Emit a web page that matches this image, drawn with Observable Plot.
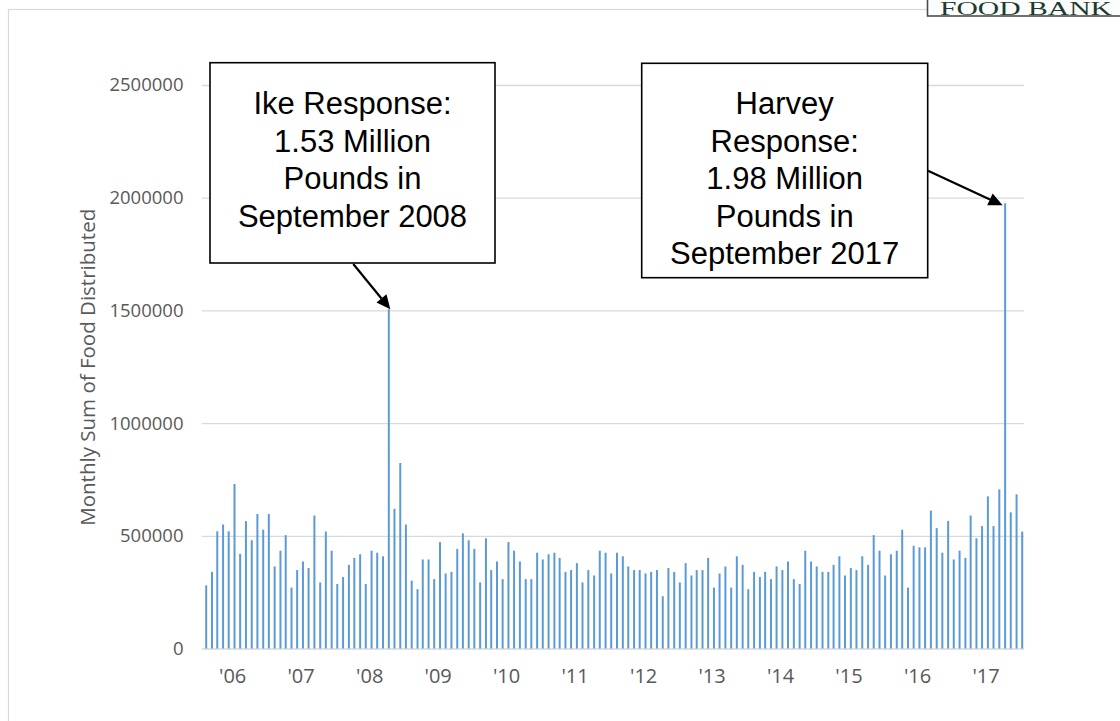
<!DOCTYPE html>
<html><head><meta charset="utf-8">
<script src="https://cdn.jsdelivr.net/npm/d3@7"></script>
<script src="https://cdn.jsdelivr.net/npm/@observablehq/plot@0.6"></script>
<style>html,body{margin:0;padding:0;background:#fff;} #chart{width:1120px;height:721px;overflow:hidden;}</style>
</head><body><div id="chart"></div>
<script>
// ---- data ----
const startMonth = "2006-01-01";
const pounds = [
  280000, 340000, 520000, 550000, 520000, 730000, 420000, 565000, 480000, 597000, 527000, 597000,
  364000, 434000, 503000, 270000, 348000, 386000, 357000, 590000, 293000, 519000, 434000, 286000,
  317000, 371000, 402000, 418000, 286000, 434000, 425000, 409000, 1505000, 620000, 823000, 550000,
  301000, 263000, 395000, 395000, 308000, 472000, 333000, 340000, 442000, 511000, 480000, 442000,
  293000, 489000, 348000, 386000, 308000, 472000, 434000, 386000, 308000, 308000, 425000, 395000,
  418000, 425000, 402000, 340000, 348000, 379000, 293000, 348000, 324000, 434000, 425000, 333000,
  425000, 409000, 364000, 348000, 348000, 333000, 340000, 348000, 232000, 357000, 340000, 293000,
  379000, 324000, 348000, 348000, 402000, 270000, 333000, 364000, 270000, 409000, 371000, 263000,
  340000, 317000, 340000, 308000, 364000, 348000, 386000, 308000, 286000, 434000, 386000, 364000,
  340000, 340000, 371000, 409000, 324000, 357000, 348000, 409000, 371000, 503000, 434000, 324000,
  418000, 434000, 527000, 270000, 456000, 449000, 449000, 612000, 534000, 425000, 566000, 395000,
  434000, 402000, 590000, 489000, 543000, 675000, 543000, 706000, 1975000, 604000, 684000, 519000
];
const labelYears = [2006, 2007, 2008, 2009, 2010, 2011, 2012, 2013, 2014, 2015, 2016, 2017];
const yearLabels = ["'06", "'07", "'08", "'09", "'10", "'11", "'12", "'13", "'14", "'15", "'16", "'17"];
const yTicks = [0, 500000, 1000000, 1500000, 2000000, 2500000];
const yTitle = "Monthly Sum of Food Distributed";
const ikeNote = ["Ike Response:", "1.53 Million", "Pounds in", "September 2008"];
const harveyNote = ["Harvey", "Response:", "1.98 Million", "Pounds in", "September 2017"];
const ikeMonth = "2008-09-01";
const harveyMonth = "2017-09-01";
const logoText = "FOOD BANK";

// ---- build ----
const start = new Date(startMonth);
const months = pounds.map((_, i) => d3.utcMonth.offset(start, i));
const data = months.map((date, i) => ({date, value: pounds[i]}));
const labelData = labelYears.map((y, i) => ({date: new Date(Date.UTC(y, 4, 22)), label: yearLabels[i]}));

const plot = Plot.plot({
  width: 1120, height: 721,
  marginLeft: 202, marginRight: 96, marginTop: 85, marginBottom: 72.5,
  style: {background: "#fff", fontFamily: "'Open Sans', sans-serif", overflow: "visible"},
  x: {type: "utc", domain: [months[0], months[months.length - 1]], range: [205.7, 1021.7], axis: null},
  y: {domain: [0, 2500000], axis: null},
  marks: [
    Plot.gridY(yTicks, {stroke: "#D9D9D9", strokeOpacity: 1, strokeWidth: 1.3}),
    Plot.axisY(yTicks, {tickSize: 0, tickPadding: 19, tickFormat: d3.format("d"), fontSize: 18.5, color: "#595959", label: null}),
    Plot.ruleX(data, {x: "date", y: "value", stroke: "#5B9BD5", strokeWidth: 2}),
    Plot.text(labelData, {x: "date", text: "label", frameAnchor: "bottom", dy: 28, fontSize: 20, fill: "#595959", lineAnchor: "middle"}),
    Plot.text([yTitle], {text: d => d, frameAnchor: "left", dx: -114, rotate: -90, fontSize: 20.5, fill: "#595959", textAnchor: "middle", lineAnchor: "middle"})
  ]
});
document.getElementById("chart").appendChild(plot);

const svg = d3.select(plot);
const xs = plot.scale("x"), ys = plot.scale("y");

// outer frame
svg.append("rect").attr("x", 8.5).attr("y", 9.5).attr("width", 1300).attr("height", 900)
  .attr("fill", "none").attr("stroke", "#D9D9D9").attr("stroke-width", 1.2);

// logo (cut off at the top-right)
svg.append("rect").attr("x", 927.5).attr("y", -30).attr("width", 300).attr("height", 46)
  .attr("fill", "#fbfdfc").attr("stroke", "#4d4d4d").attr("stroke-width", 1.6);
svg.append("text").attr("x", 940).attr("y", 14.5).text(logoText)
  .attr("text-anchor", "start")
  .attr("font-family", "'Liberation Serif', serif").attr("font-size", 18)
  .attr("textLength", 172).attr("lengthAdjust", "spacingAndGlyphs")
  .attr("fill", "#1d3b2c");

function note(lines, bx, by, bw, bh) {
  svg.append("rect").attr("x", bx).attr("y", by).attr("width", bw).attr("height", bh)
    .attr("fill", "#fff").attr("stroke", "#000").attr("stroke-width", 1.6);
  const t = svg.append("text").attr("font-family", "'Liberation Sans', Arial, sans-serif")
    .attr("font-size", 31).attr("fill", "#000").attr("text-anchor", "middle");
  lines.forEach((l, i) => t.append("tspan").attr("x", bx + bw / 2).attr("y", 114.3 + 37.5 * i).text(l));
}
function arrow(x1, y1, x2, y2) {
  const a = Math.atan2(y2 - y1, x2 - x1), L = 14, w = 6.5;
  const bx = x2 - L * Math.cos(a), by = y2 - L * Math.sin(a);
  svg.append("line").attr("x1", x1).attr("y1", y1).attr("x2", bx).attr("y2", by)
    .attr("stroke", "#000").attr("stroke-width", 2.2);
  const px = -Math.sin(a) * w, py = Math.cos(a) * w;
  svg.append("polygon").attr("points", `${x2},${y2} ${bx + px},${by + py} ${bx - px},${by - py}`).attr("fill", "#000");
}

note(ikeNote, 210, 62.7, 285, 200.3);
note(harveyNote, 641.7, 63.3, 286, 214.4);

const ikeVal = pounds[months.findIndex(d => +d === +new Date(ikeMonth))];
const harVal = pounds[months.findIndex(d => +d === +new Date(harveyMonth))];
arrow(353.3, 264, xs.apply(new Date(ikeMonth)) + 2, ys.apply(ikeVal));
arrow(928, 170.7, xs.apply(new Date(harveyMonth)) - 2, ys.apply(harVal) + 2);
</script>
</body></html>
